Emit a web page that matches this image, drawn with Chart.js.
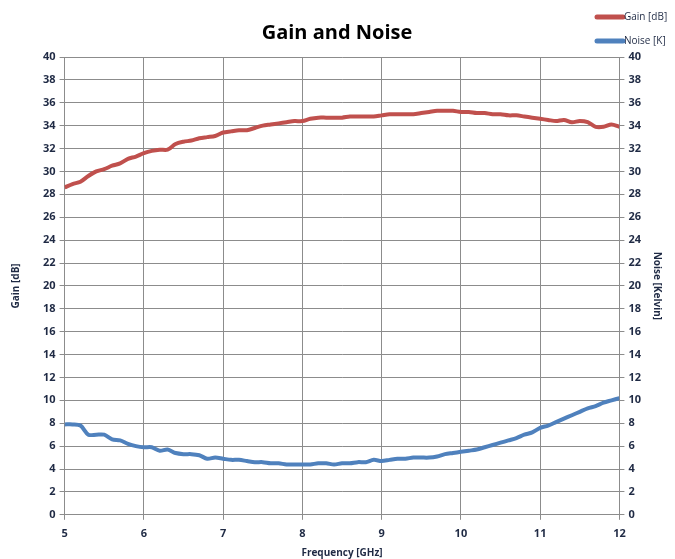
<!DOCTYPE html>
<html>
<head>
<meta charset="utf-8">
<script src="https://cdn.jsdelivr.net/npm/chart.js@4.4.0/dist/chart.umd.min.js"></script>
<style>
  html, body { margin: 0; padding: 0; background: #fff; }
  #chart { display: block; }
</style>
</head>
<body>
<canvas id="chart" width="675" height="559"></canvas>
<script>
'use strict';

const freq = [5.0,5.1,5.2,5.3,5.4,5.5,5.6,5.7,5.8,5.9,
  6.0,6.1,6.2,6.3,6.4,6.5,6.6,6.7,6.8,6.9,
  7.0,7.1,7.2,7.3,7.4,7.5,7.6,7.7,7.8,7.9,
  8.0,8.1,8.2,8.3,8.4,8.5,8.6,8.7,8.8,8.9,
  9.0,9.1,9.2,9.3,9.4,9.5,9.6,9.7,9.8,9.9,
  10.0,10.1,10.2,10.3,10.4,10.5,10.6,10.7,10.8,10.9,
  11.0,11.1,11.2,11.3,11.4,11.5,11.6,11.7,11.8,11.9,12.0];

const gain = [28.6,28.9,29.1,29.6,30.0,30.2,30.5,30.7,31.1,31.3,
  31.6,31.8,31.9,31.9,32.4,32.6,32.7,32.9,33.0,33.1,
  33.4,33.5,33.6,33.6,33.8,34.0,34.1,34.2,34.3,34.4,
  34.4,34.6,34.7,34.7,34.7,34.7,34.8,34.8,34.8,34.8,
  34.9,35.0,35.0,35.0,35.0,35.1,35.2,35.3,35.3,35.3,
  35.2,35.2,35.1,35.1,35.0,35.0,34.9,34.9,34.8,34.7,
  34.6,34.5,34.4,34.5,34.3,34.4,34.3,33.9,33.9,34.1,33.9];

const noise = [7.9,7.9,7.8,7.0,7.0,7.0,6.6,6.5,6.2,6.0,
  5.9,5.9,5.6,5.7,5.4,5.3,5.3,5.2,4.9,5.0,
  4.9,4.8,4.8,4.7,4.6,4.6,4.5,4.5,4.4,4.4,
  4.4,4.4,4.5,4.5,4.4,4.5,4.5,4.6,4.6,4.8,
  4.7,4.8,4.9,4.9,5.0,5.0,5.0,5.1,5.3,5.4,
  5.5,5.6,5.7,5.9,6.1,6.3,6.5,6.7,7.0,7.2,
  7.6,7.8,8.1,8.4,8.7,9.0,9.3,9.5,9.8,10.0,10.2];

const seriesNames = ['Gain [dB]', 'Noise [K]'];
const seriesColors = ['#c0504d', '#4f81bd'];

const toPoints = (ys) => freq.map((f, i) => ({x: f, y: ys[i]}));

const textColor = '#1f2a44';
const gridColor = '#8c8c8c';
const tickFont = {family: 'Open Sans', size: 11, weight: 'bold'};

// legend drawn top right, stacked like the original
const cornerLegend = {
  id: 'cornerLegend',
  afterDraw(chart) {
    const ctx = chart.ctx;
    ctx.save();
    ctx.font = '10px "Open Sans"';
    ctx.textBaseline = 'middle';
    ctx.fillStyle = textColor;
    const rows = [17, 41];
    seriesNames.forEach((name, i) => {
      ctx.strokeStyle = seriesColors[i];
      ctx.lineWidth = 5;
      ctx.lineCap = 'round';
      ctx.beginPath();
      ctx.moveTo(597, rows[i]);
      ctx.lineTo(623, rows[i]);
      ctx.stroke();
      ctx.fillText(name, 624, rows[i]);
    });
    ctx.restore();
  }
};

const yScale = (pos, title, titlePad) => ({
  type: 'linear',
  position: pos,
  min: 0,
  max: 40,
  ticks: {stepSize: 2, color: textColor, font: tickFont, padding: 4},
  grid: {color: gridColor, lineWidth: 1, drawOnChartArea: pos === 'left', tickLength: 5},
  border: {color: gridColor},
  title: {display: true, text: title, color: textColor, font: {family: 'Open Sans', size: 10, weight: 'bold'}, padding: titlePad}
});

const config = {
  type: 'line',
  data: {
    datasets: [
      {label: seriesNames[0], data: toPoints(gain), borderColor: seriesColors[0], borderWidth: 4, pointRadius: 0, tension: 0.3, yAxisID: 'y'},
      {label: seriesNames[1], data: toPoints(noise), borderColor: seriesColors[1], borderWidth: 4, pointRadius: 0, tension: 0.3, yAxisID: 'y2'}
    ]
  },
  options: {
    responsive: false,
    animation: false,
    layout: {padding: {top: 13, left: 10, right: 11, bottom: 0}},
    plugins: {
      legend: {display: false},
      tooltip: {enabled: false},
      title: {
        display: true,
        text: 'Gain and Noise',
        color: '#000',
        font: {family: 'Open Sans', size: 20, weight: 'bold'},
        padding: {top: 8, bottom: 12}
      }
    },
    scales: {
      x: {
        type: 'linear',
        min: 5,
        max: 12,
        ticks: {stepSize: 1, color: textColor, font: tickFont, padding: 7},
        grid: {color: gridColor, lineWidth: 1, tickLength: 5},
        border: {color: gridColor},
        title: {display: true, text: 'Frequency [GHz]', color: textColor, font: {family: 'Open Sans', size: 10, weight: 'bold'}, padding: {top: 0, bottom: 0}}
      },
      y: yScale('left', 'Gain [dB]', {top: 0, bottom: 17}),
      y2: yScale('right', 'Noise [Kelvin]', {top: 1, bottom: 6})
    }
  },
  plugins: [cornerLegend]
};

window.onload = function() {
  const ctx = document.getElementById('chart').getContext('2d');
  window.myChart = new Chart(ctx, config);
};
</script>
</body>
</html>
